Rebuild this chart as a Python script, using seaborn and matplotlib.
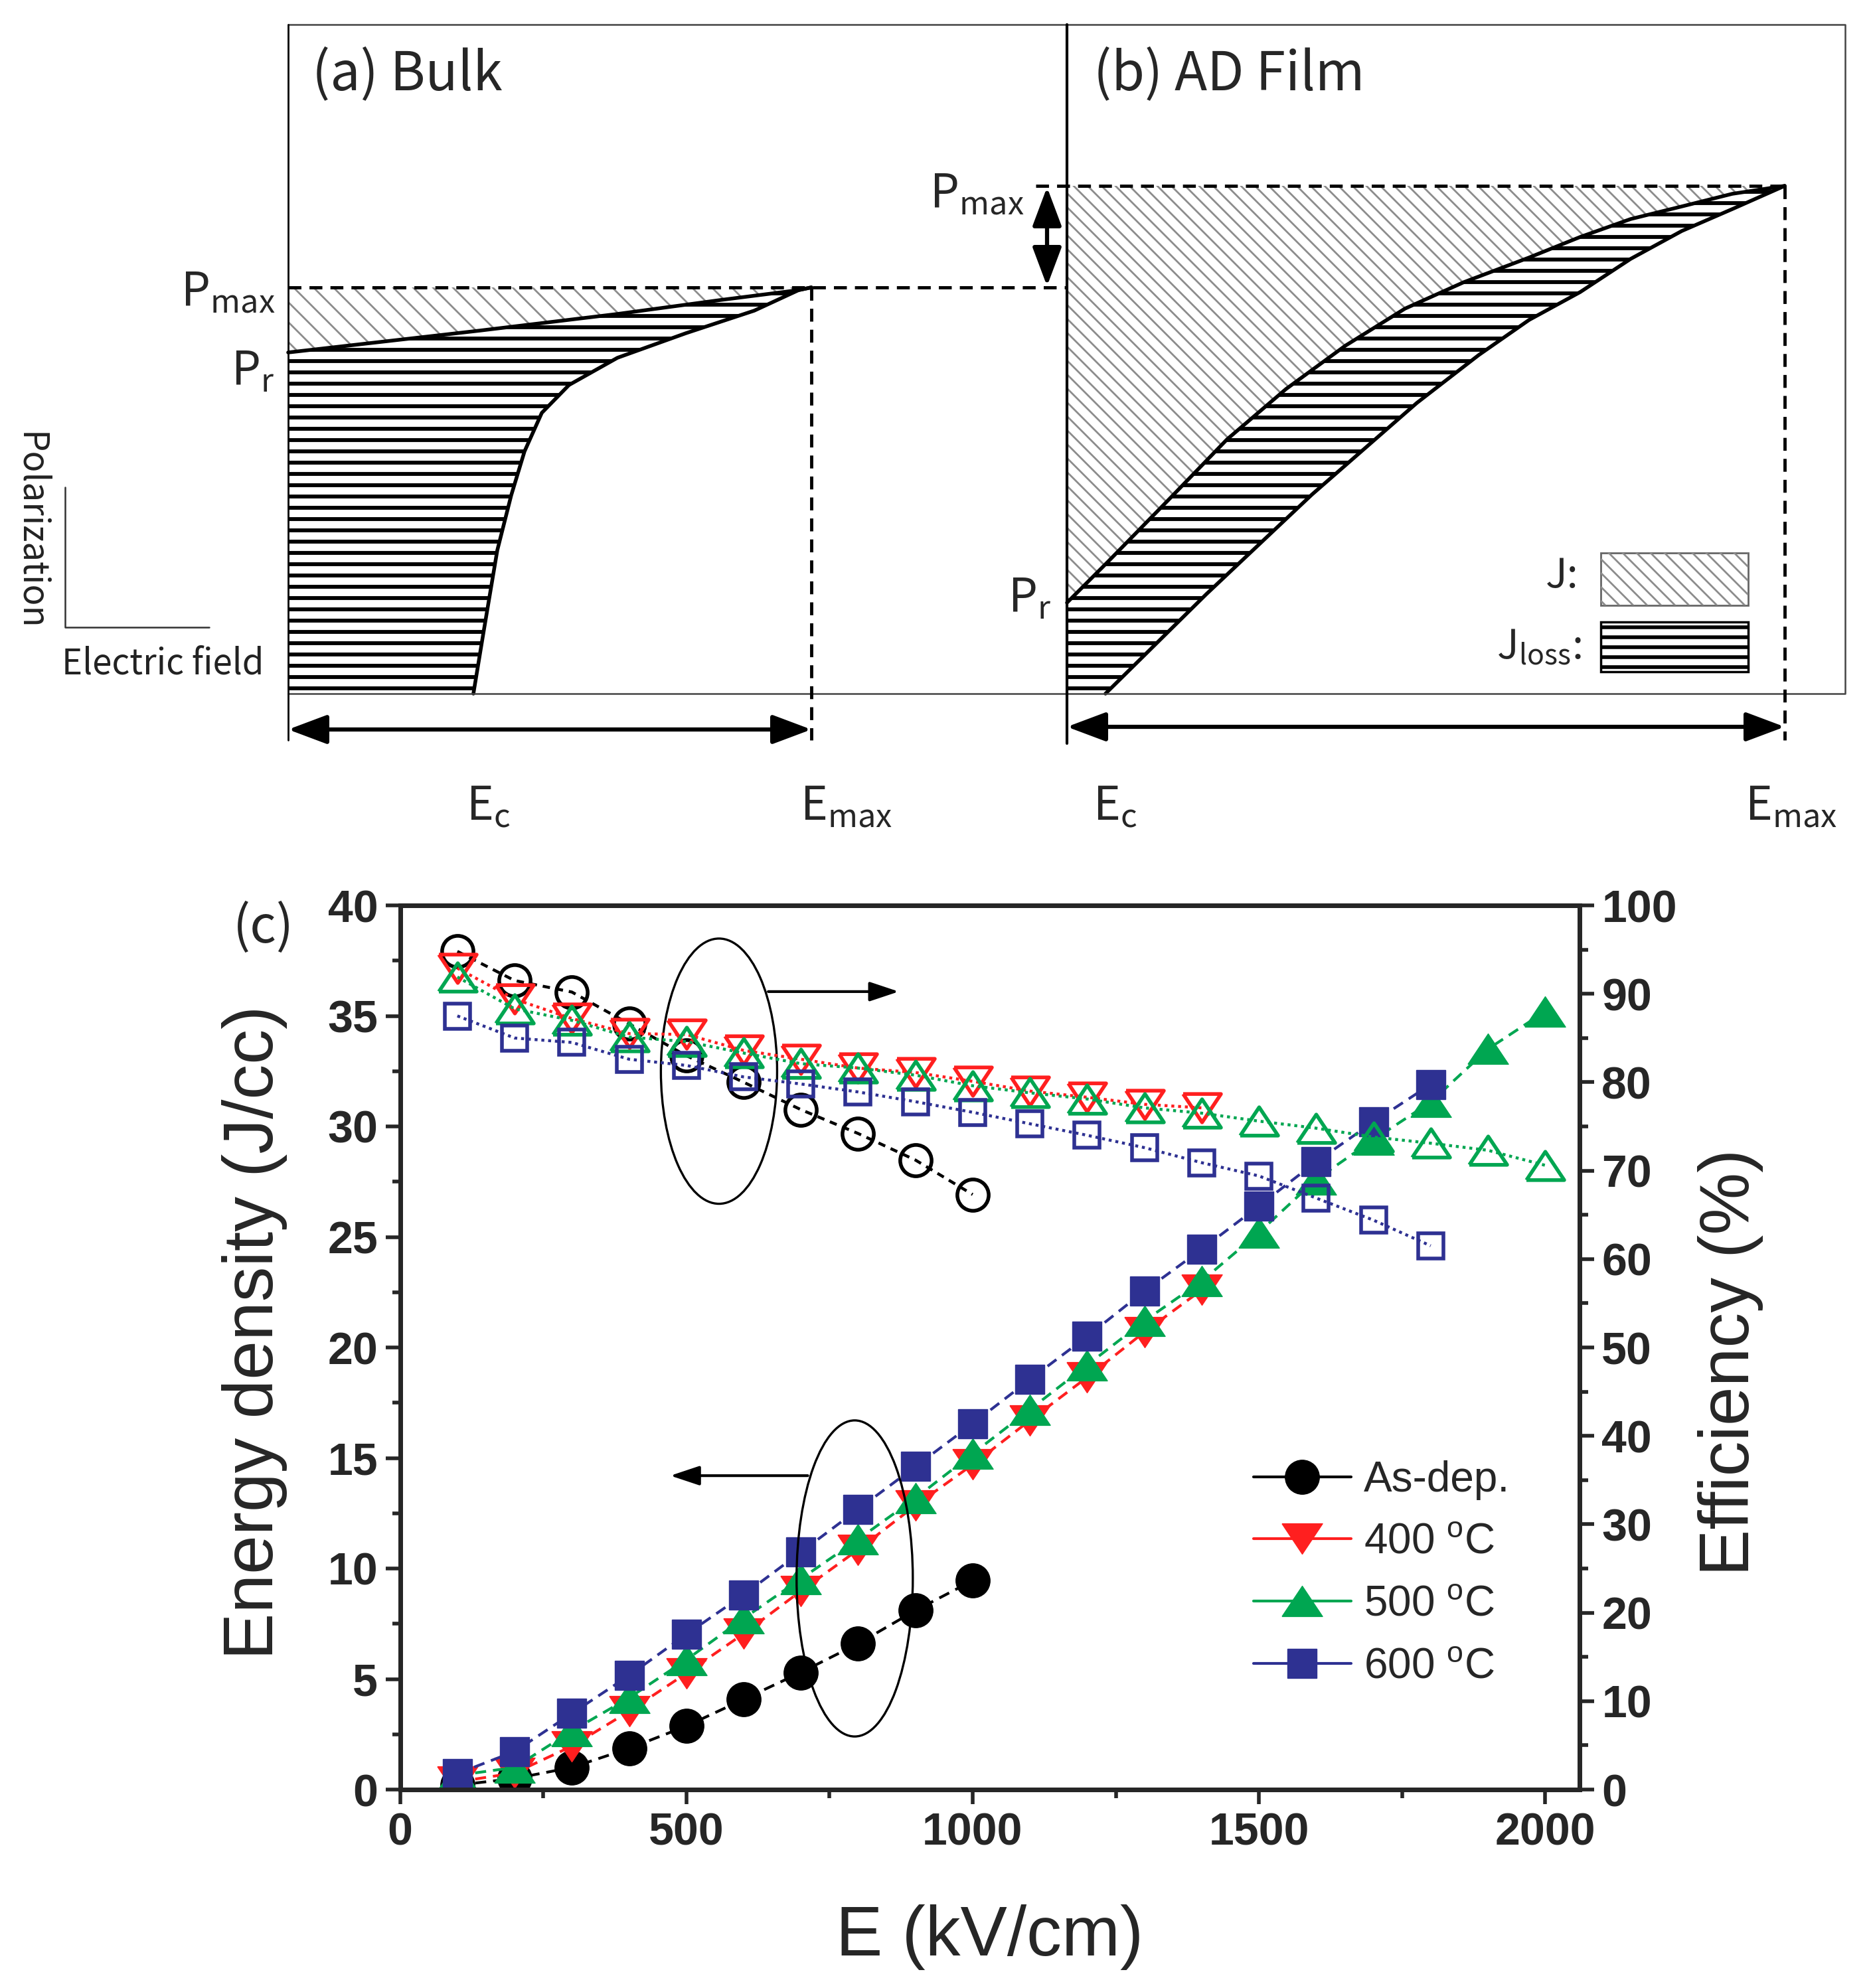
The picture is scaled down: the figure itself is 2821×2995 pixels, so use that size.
import numpy as np
import seaborn as sns
import matplotlib.pyplot as plt
from matplotlib.patches import Polygon, Rectangle, Ellipse
from matplotlib.collections import LineCollection
from matplotlib.lines import Line2D
from matplotlib.ticker import MultipleLocator

# ---- (c) data ----
E_asdep = [100, 200, 300, 400, 500, 600, 700, 800, 900, 1000]
W_asdep = [0.2, 0.5, 1.0, 1.86, 2.87, 4.08, 5.3, 6.6, 8.1, 9.45]
eta_asdep = [94.8, 91.5, 90.2, 86.6, 83.0, 80.0, 76.9, 74.2, 71.2, 67.3]

E_400 = [100, 200, 300, 400, 500, 600, 700, 800, 900, 1000, 1100, 1200, 1300, 1400]
W_400 = [0.35, 0.75, 1.96, 3.54, 5.26, 7.05, 8.98, 10.85, 12.85, 14.7, 16.7, 18.65, 20.7, 22.6]
eta_400 = [92.9, 89.4, 87.2, 85.5, 85.4, 83.6, 82.6, 81.6, 81.1, 80.1, 79.0, 78.3, 77.5, 77.1]

E_500 = [100, 200, 300, 400, 500, 600, 700, 800, 900, 1000,
         1100, 1200, 1300, 1400, 1500, 1600, 1700, 1800, 1900, 2000]
W_500 = [0.64, 1.0, 2.65, 4.15, 5.87, 7.74, 9.53, 11.32, 13.18, 15.19,
         17.19, 19.2, 21.2, 23.0, 25.2, 27.6, 29.4, 31.1, 33.5, 35.2]
eta_500 = [91.9, 88.3, 87.0, 85.1, 84.6, 83.3, 82.1, 81.6, 80.8, 79.6,
           78.8, 78.1, 77.1, 76.5, 75.6, 74.8, 73.8, 73.1, 72.3, 70.6]

E_600 = [100, 200, 300, 400, 500, 600, 700, 800, 900, 1000,
         1100, 1200, 1300, 1400, 1500, 1600, 1700, 1800]
W_600 = [0.72, 1.72, 3.44, 5.16, 7.02, 8.81, 10.74, 12.68, 14.61, 16.55,
         18.55, 20.5, 22.55, 24.44, 26.4, 28.4, 30.2, 31.9]
eta_600 = [87.5, 85.0, 84.5, 82.6, 81.9, 80.6, 79.8, 78.9, 77.8, 76.6,
           75.3, 74.0, 72.6, 70.9, 69.4, 66.9, 64.4, 61.5]

labels = ['As-dep.', '400 $^{o}$C', '500 $^{o}$C', '600 $^{o}$C']
colors = ['black', '#FF1F1F', '#00A651', '#2E3192']

# ---- schematic (a)/(b), in image pixel units ----
box_top, box_bot, box_left, box_mid, box_right = 37, 1045, 434, 1607, 2779
a_pmax, a_emax = 433, 1222
a_up_x = [434, 723, 930, 1085, 1203, 1222]
a_up_y = [531, 498, 473, 452, 437, 433]
a_lo_x = [1222, 1203, 1136, 1033, 930, 857, 816, 790, 770, 749, 728, 713]
a_lo_y = [433, 437, 468, 502, 539, 580, 622, 680, 746, 829, 954, 1045]
b_pmax, b_emax = 280, 2688
b_up_x = [1607, 1669, 1759, 1848, 1937, 2026, 2116, 2205, 2303, 2380, 2456, 2533, 2609, 2688]
b_up_y = [908, 846, 754, 662, 586, 521, 465, 425, 388, 357, 330, 311, 292, 280]
b_lo_x = [2688, 2609, 2533, 2456, 2380, 2303, 2227, 2134, 1976, 1817, 1665]
b_lo_y = [280, 315, 348, 390, 440, 482, 535, 607, 745, 895, 1045]

sns.set_style('white')
plt.rcParams['font.family'] = ['Liberation Sans', 'DejaVu Sans']
plt.rcParams['mathtext.default'] = 'regular'
SF = ['Noto Sans CJK KR', 'DejaVu Sans']


def hatch(ax, xs, ys, step, kind, color, lw):
    poly = Polygon(np.column_stack([xs, ys]), closed=True, fc='none', ec='none')
    ax.add_patch(poly)
    x0, x1, y0, y1 = min(xs), max(xs), min(ys), max(ys)
    if kind == 'h':
        segs = [[(x0, y), (x1, y)] for y in np.arange(y0 + step / 2, y1, step)]
    else:
        segs = [[(x0, x0 + c), (x1, x1 + c)] for c in np.arange(y0 - x1, y1 - x0, step)]
    lc = LineCollection(segs, colors=color, linewidths=lw)
    lc.set_clip_path(poly)
    ax.add_collection(lc)


fig = plt.figure(figsize=(28.21, 29.95), dpi=100)
top = fig.add_axes([0, 0, 1, 1])
top.set_xlim(0, 2821)
top.set_ylim(2995, 0)
top.axis('off')

gray = '#8c8c8c'
# (a) regions
hatch(top, [434, 1222] + a_up_x[::-1][1:], [a_pmax, a_pmax] + a_up_y[::-1][1:], 30, 'd', gray, 2)
hatch(top, a_up_x + a_lo_x[1:] + [434], a_up_y + a_lo_y[1:] + [box_bot], 17, 'h', 'k', 4.2)
top.plot(a_up_x, a_up_y, color='k', lw=4)
top.plot(a_lo_x, a_lo_y, color='k', lw=4)
# (b) regions
hatch(top, [box_mid, b_emax] + b_up_x[::-1][1:], [b_pmax, b_pmax] + b_up_y[::-1][1:], 21, 'd', gray, 2)
hatch(top, b_up_x + b_lo_x[1:] + [box_mid], b_up_y + b_lo_y[1:] + [box_bot], 17, 'h', 'k', 4.2)
top.plot(b_up_x, b_up_y, color='k', lw=4)
top.plot(b_lo_x, b_lo_y, color='k', lw=4)

# frame
top.plot([box_left, box_right, box_right, box_left], [box_top, box_top, box_bot, box_bot],
         color='#444444', lw=1.8)
top.plot([box_left, box_left], [box_top, 1115], color='k', lw=2)
top.plot([box_mid, box_mid], [box_top, 1120], color='k', lw=3)

# dashed guides
dash = dict(color='k', lw=3.5, dashes=(4, 2.5))
top.plot([box_left, box_mid], [a_pmax, a_pmax], **dash)
top.plot([a_emax, a_emax], [a_pmax, 1115], **dash)
top.plot([1560, b_emax], [b_pmax, b_pmax], **dash)
top.plot([b_emax, b_emax], [b_pmax, 1115], **dash)

arr = dict(arrowstyle='<|-|>,head_length=1.2,head_width=0.45', lw=4.5, color='k',
           shrinkA=0, shrinkB=0, mutation_scale=30)
top.annotate('', xy=(box_left, 1099), xytext=(a_emax, 1099), arrowprops=arr)
top.annotate('', xy=(box_mid, 1095), xytext=(b_emax, 1095), arrowprops=arr)
top.annotate('', xy=(1577, b_pmax + 2), xytext=(1577, a_pmax - 2), arrowprops=arr)

# polarization / field icon
top.plot([98, 98, 315], [734, 945, 945], color='#333333', lw=1.8)
top.text(46, 800, 'Polarization', rotation=270, ha='center', va='center', fontsize=38,
         family=SF, color='#222222')
top.text(93, 1000, 'Electric field', ha='left', va='center', fontsize=38, family=SF,
         color='#222222')

top.text(470, 112, '(a) Bulk', ha='left', va='center', fontsize=58, family=SF)
top.text(1647, 112, '(b) AD Film', ha='left', va='center', fontsize=58, family=SF)
top.text(414, 440, 'P$_{max}$', ha='right', va='center', fontsize=50, family=SF)
top.text(414, 560, 'P$_{r}$', ha='right', va='center', fontsize=50, family=SF)
top.text(1542, 292, 'P$_{max}$', ha='right', va='center', fontsize=50, family=SF)
top.text(1584, 902, 'P$_{r}$', ha='right', va='center', fontsize=50, family=SF)
for x, s in [(735, 'E$_{c}$'), (1275, 'E$_{max}$'), (1679, 'E$_{c}$'), (2698, 'E$_{max}$')]:
    top.text(x, 1215, s, ha='center', va='center', fontsize=50, family=SF)

# J / J_loss key
top.add_patch(Rectangle((2411, 833), 222, 79, fill=False, ec='#666666', lw=2))
hatch(top, [2411, 2633, 2633, 2411], [833, 833, 912, 912], 21, 'd', gray, 2)
top.add_patch(Rectangle((2411, 937), 222, 75, fill=False, ec='k', lw=2.5))
hatch(top, [2411, 2633, 2633, 2411], [937, 937, 1012, 1012], 15, 'h', 'k', 4)
top.text(2378, 868, 'J:', ha='right', va='center', fontsize=44, family=SF)
top.text(2382, 975, 'J$_{loss}$:', ha='right', va='center', fontsize=44, family=SF)

# ---- (c) energy density / efficiency ----
ax = fig.add_axes([602.6 / 2821, 299 / 2995, 1776.4 / 2821, 1332 / 2995])
ax2 = ax.twinx()

up = [(-1, -0.75), (1, -0.75), (0, 0.75), (-1, -0.75)]
down = [(-1, 0.75), (1, 0.75), (0, -0.75), (-1, 0.75)]
markers = ['o', down, up, 's']
sizes = [37, 44, 44, 31]
E_sets = [E_asdep, E_400, E_500, E_600]
W_sets = [W_asdep, W_400, W_500, W_600]
eta_sets = [eta_asdep, eta_400, eta_500, eta_600]

for E, W, eta, m, ms, c in zip(E_sets, W_sets, eta_sets, markers, sizes, colors):
    sns.lineplot(x=E, y=W, ax=ax, color=c, marker=m, markersize=ms,
                 markerfacecolor=c, markeredgecolor=c, markeredgewidth=1,
                 linestyle=(0, (4, 2.5)), linewidth=3, errorbar=None,
                 legend=False, sort=False)
    sns.lineplot(x=E, y=eta, ax=ax2, color=c, marker=m, markersize=ms - 3,
                 markerfacecolor='none', markeredgecolor=c, markeredgewidth=4,
                 linestyle=(0, (2.5, 2)) if c == 'black' else (0, (1, 1.3)),
                 linewidth=3.2, errorbar=None, legend=False, sort=False)

ax.set_xlim(0, 2060)
ax.set_ylim(0, 40)
ax2.set_ylim(0, 100)
ax.xaxis.set_major_locator(MultipleLocator(500))
ax.xaxis.set_minor_locator(MultipleLocator(250))
ax.yaxis.set_major_locator(MultipleLocator(5))
ax.yaxis.set_minor_locator(MultipleLocator(2.5))
ax2.yaxis.set_major_locator(MultipleLocator(10))
ax2.yaxis.set_minor_locator(MultipleLocator(5))

for a in (ax, ax2):
    for s in a.spines.values():
        s.set_linewidth(5)
    a.tick_params(which='major', direction='out', length=16, width=4, labelsize=49, pad=8)
    a.tick_params(which='minor', direction='out', length=9, width=4)
ax.tick_params(which='both', top=False, right=False, bottom=True, left=True)
ax2.tick_params(which='both', right=True, left=False, top=False)
for lbl in ax.get_xticklabels() + ax.get_yticklabels() + ax2.get_yticklabels():
    lbl.set_fontweight('bold')

ax.set_xlabel('E (kV/cm)', fontsize=76)
ax.set_ylabel('Energy density (J/cc)', fontsize=76)
ax2.set_ylabel('Efficiency (%)', fontsize=76)
ax.xaxis.set_label_coords(0.5, -0.13)
ax.yaxis.set_label_coords(-0.0955, 0.517)
ax2.yaxis.set_label_coords(1.10, 0.483)

# guide ellipses and arrows
ax.add_patch(Ellipse((557, 32.5), 203, 12.0, fill=False, ec='k', lw=2.4, zorder=6))
ax.add_patch(Ellipse((794, 9.55), 203, 14.3, fill=False, ec='k', lw=2.4, zorder=6))
pt = dict(arrowstyle='-|>,head_length=0.9,head_width=0.3', lw=3, color='k',
          shrinkA=0, shrinkB=0, mutation_scale=30)
ax.annotate('', xy=(871, 36.1), xytext=(643, 36.1), arrowprops=pt)
ax.annotate('', xy=(472, 14.2), xytext=(712, 14.2), arrowprops=pt)

handles = [Line2D([], [], color=c, marker=m, markersize=ms, markerfacecolor=c,
                  markeredgecolor=c, lw=3)
           for m, ms, c in zip(markers, sizes, colors)]
ax.legend(handles, labels, loc='upper left', bbox_to_anchor=(1888 / 2821, 1 - 2200 / 2995),
          bbox_transform=fig.transFigure, frameon=False, fontsize=46, handlelength=2.3,
          handletextpad=0.3, labelspacing=0.53, borderpad=0, borderaxespad=0)

fig.text(397 / 2821, 1 - 1398 / 2995, '(c)', ha='center', va='center', fontsize=56, family=SF)

fig.savefig('out.png', dpi=100)
